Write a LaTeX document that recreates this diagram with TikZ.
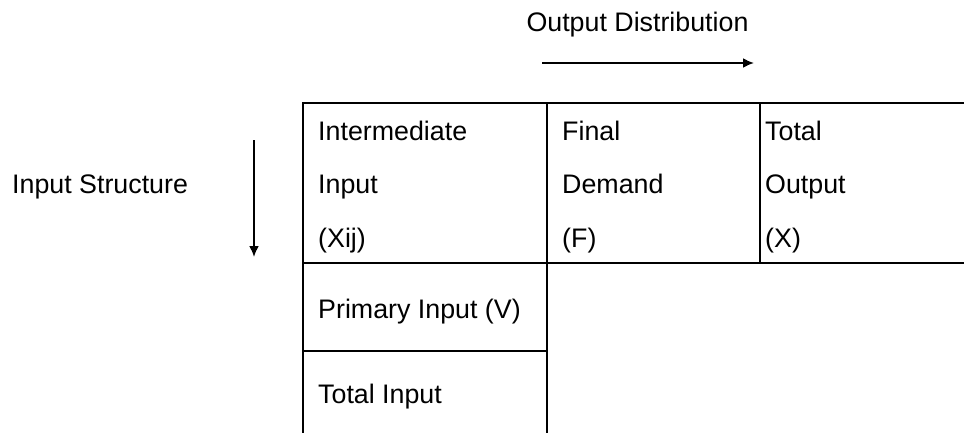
\documentclass[tikz,border=0pt]{standalone}
\usepackage{fontspec}
\setmainfont{Liberation Sans}
\usetikzlibrary{arrows.meta}
\begin{document}
\begin{tikzpicture}[x=1pt,y=-1pt,
  txt/.style={inner sep=0pt,anchor=base west,font=\fontsize{26.8}{32}\selectfont},
  grid/.style={line width=2.5pt,line cap=rect},
  arr/.style={line width=2pt,-{Latex[length=11pt,width=10pt]}}]
\useasboundingbox[fill=white] (0,0) rectangle (964,432);
% headers
\node[txt,anchor=base] (od) at (637.5,31) {Output Distribution};
\node[txt] (is) at (12,193) {Input Structure};
\coordinate (ha) at (542,63);
\coordinate (hb) at (754,63);
\draw[arr] (ha) -- (hb);
\coordinate (va) at (254,140);
\coordinate (vb) at (254,257);
\draw[arr] (va) -- (vb);
% table lines
\draw[grid] (303,432) -- (303,103) -- (970,103);
\draw[grid] (547,103) -- (547,432);
\draw[grid] (760,103) -- (760,263);
\draw[grid] (303,263) -- (970,263);
\draw[grid] (303,351) -- (547,351);
% cells
\node[txt] (a1) at (318,140) {Intermediate};
\node[txt] (a2) at (318,193) {Input};
\node[txt] (a3) at (318,247) {(Xij)};
\node[txt] (b1) at (562,140) {Final};
\node[txt] (b2) at (562,193) {Demand};
\node[txt] (b3) at (562,247) {(F)};
\node[txt] (c1) at (765,140) {Total};
\node[txt] (c2) at (765,193) {Output};
\node[txt] (c3) at (765,247) {(X)};
\node[txt] (p1) at (318,318) {Primary Input (V)};
\node[txt] (p2) at (318,403) {Total Input};
\end{tikzpicture}
\end{document}
